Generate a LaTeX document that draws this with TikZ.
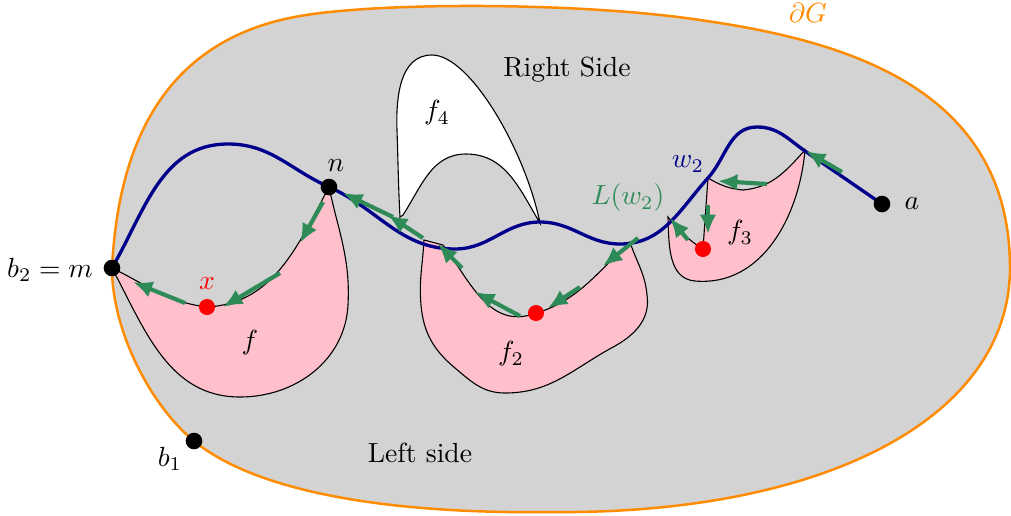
\documentclass[tikz,border=0pt]{standalone}
\usetikzlibrary{arrows.meta}
\definecolor{regiongray}{RGB}{211,211,211}
\definecolor{bordorange}{RGB}{255,140,0}
\definecolor{facepink}{RGB}{255,192,203}
\definecolor{walkgreen}{RGB}{46,139,87}
\definecolor{pathnavy}{RGB}{0,0,139}
\begin{document}
\begin{tikzpicture}[x=0.0127cm,y=-0.0127cm,
  region/.style={fill=regiongray,draw=bordorange,line width=0.9pt},
  face/.style={fill=facepink,draw=black,line width=0.4pt},
  whiteface/.style={fill=white,draw=black,line width=0.4pt},
  bluepath/.style={draw=pathnavy,line width=1.2pt},
  walk/.style={draw=walkgreen,line width=1.5pt,-{Latex[length=7pt,width=6pt]}},
  blackdot/.style={circle,fill=black,inner sep=0pt,minimum size=6pt},
  reddot/.style={circle,fill=red,inner sep=0pt,minimum size=5.8pt},
  lab/.style={inner sep=0pt}]
\useasboundingbox (0,0) rectangle (1011,515);

% outer region
\path[region] (112,268) .. controls (118,150) and (160,40) .. (300,16)
  .. controls (380,2) and (580,2) .. (700,20)
  .. controls (840,40) and (1008,85) .. (1010,265)
  .. controls (1012,420) and (820,515) .. (550,512)
  .. controls (400,514) and (260,495) .. (194,441)
  .. controls (150,405) and (112,330) .. (112,268) -- cycle;

% face f
\path[face] (112,268) to[out=-62,in=180] (240,397) to[out=0,in=-93] (348,305)
  to[out=87,in=-78] (329,187)
  to[out=-118,in=3] (207,307) to[out=173,in=-26] (112,268) -- cycle;

% face f2
\path[face] (424,240) to[out=-93,in=95] (421,305) to[out=-85,in=140] (455,368)
  to[out=-40,in=180] (505,393) to[out=0,in=-152] (615,346)
  .. controls (640,332) and (650,315) .. (647,295) to[out=95,in=-72] (630,242)
  to[out=-137,in=15] (530,315) to[out=195,in=-53] (443,245) -- cycle;

% face f3
\path[face] (668,217) to[out=-88,in=175] (695,281) to[out=-5,in=-95] (805,150)
  to[out=-132,in=5] (743,190) to[out=175,in=-30] (708,178)
  -- (703,249) to[out=148,in=-50] (668,217) -- cycle;

% face f4
\path[whiteface] (400,217) to[out=93,in=-88] (397,130) to[out=92,in=180] (432,55)
  .. controls (470,55) and (525,150) .. (540,223)
  to[out=121,in=0] (466,154) to[out=180,in=57] (403,215) -- cycle;

% blue path
\draw[bluepath] (112,268) to[out=60,in=180] (228,144) to[out=0,in=156] (329,187)
  to[out=-24,in=180] (455,249) to[out=0,in=180] (540,222)
  to[out=0,in=180] (620,244) to[out=0,in=228] (708,178)
  to[out=48,in=180] (757,127) to[out=0,in=145] (805,151) -- (882,204);

% walk arrows
\coordinate (a1s) at (842,172); \coordinate (a1t) at (806,151);
\coordinate (a2s) at (767,184); \coordinate (a2t) at (718,181);
\coordinate (a3s) at (708,205); \coordinate (a3t) at (708,234);
\coordinate (a4s) at (688,240); \coordinate (a4t) at (670,218);
\coordinate (a5s) at (638,238); \coordinate (a5t) at (603,266);
\coordinate (a6s) at (580,287); \coordinate (a6t) at (548,308);
\coordinate (a7s) at (520,316); \coordinate (a7t) at (475,292);
\coordinate (a8s) at (462,268); \coordinate (a8t) at (438,244);
\coordinate (a9s) at (423,238); \coordinate (a9t) at (388,215);
\coordinate (a10s) at (393,217); \coordinate (a10t) at (343,193);
\coordinate (a11s) at (323,202); \coordinate (a11t) at (300,243);
\coordinate (a12s) at (280,273); \coordinate (a12t) at (223,307);
\coordinate (a13s) at (185,303); \coordinate (a13t) at (133,282);
\foreach \i in {1,...,13}{\draw[walk] (a\i s) -- (a\i t);}

% dots
\node[blackdot] (m) at (112,268) {};
\node[blackdot] (n) at (329,187) {};
\node[blackdot] (a) at (882,204) {};
\node[blackdot] (b1) at (194,441) {};
\node[reddot] (x) at (207,307) {};
\node[reddot] (x2) at (536,313) {};
\node[reddot] (x3) at (703,249) {};

% labels
\node[lab,text=bordorange] (lG) at (808,13) {$\partial G$};
\node[lab] (lRS) at (567,70) {Right Side};
\node[lab] (lf4) at (437,113) {$f_4$};
\node[lab] (ln) at (336,166) {$n$};
\node[lab,text=pathnavy] (lw2) at (688,164) {$w_2$};
\node[lab,text=walkgreen] (lL) at (628,198) {$L(w_2)$};
\node[lab] (la) at (912,204) {$a$};
\node[lab] (lf3) at (740,233) {$f_3$};
\node[lab] (lb2) at (50,270) {$b_2=m$};
\node[lab,text=red] (lx) at (207,284) {$x$};
\node[lab] (lf) at (250,343) {$f$};
\node[lab] (lf2) at (511,354) {$f_2$};
\node[lab] (lb1) at (170,459) {$b_1$};
\node[lab] (lLS) at (420,453) {Left side};
\end{tikzpicture}
\end{document}
